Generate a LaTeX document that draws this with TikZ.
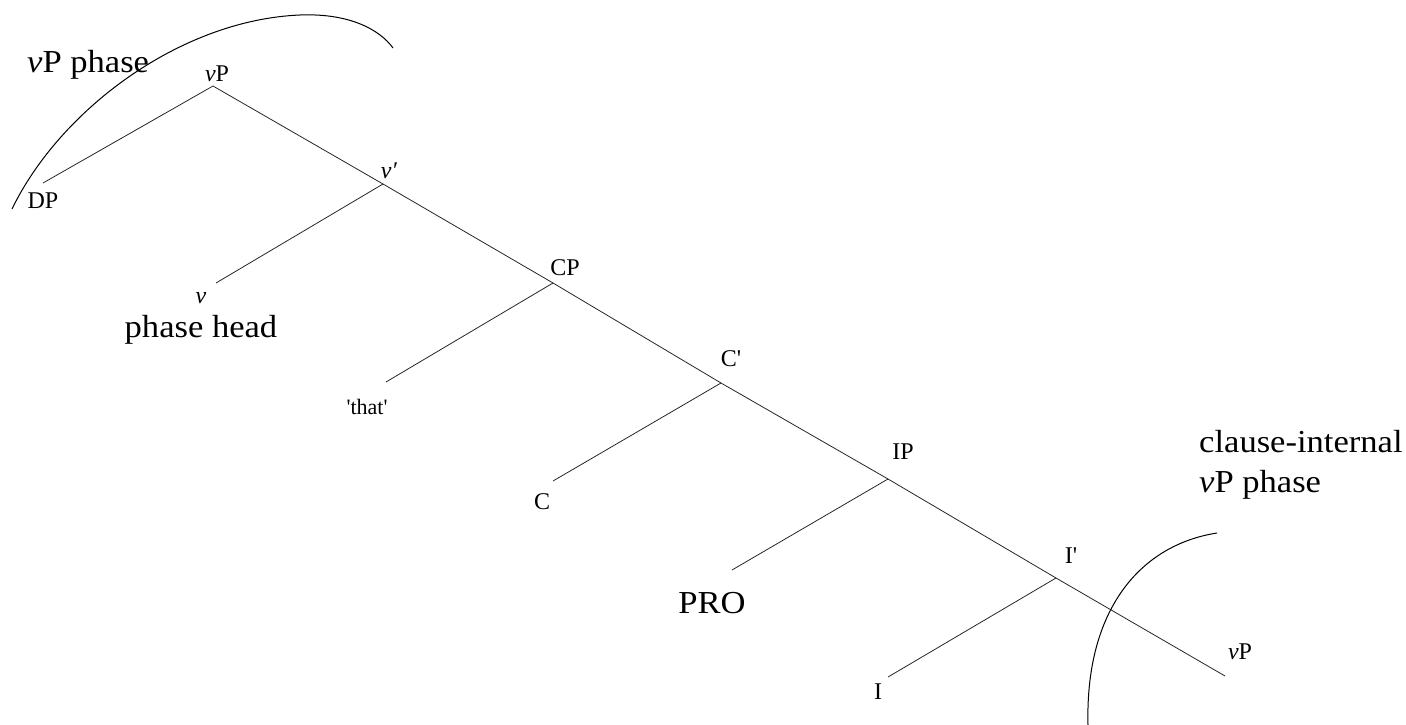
\documentclass[tikz,border=0pt]{standalone}
\usepackage{fontspec}
\setmainfont{Liberation Serif}
\newfontfamily\treefont{Liberation Serif}
\newfontfamily\notefont{Liberation Serif}[FakeStretch=1.08]
\begin{document}
\begin{tikzpicture}[x=1pt,y=-1pt,
  branch/.style={draw=black!85, line width=0.8pt},
  lab/.style={inner sep=0pt, font=\treefont\fontsize{24}{27}\selectfont},
  note/.style={inner sep=0pt, font=\notefont\fontsize{32}{40}\selectfont, anchor=base west},
  phasearc/.style={draw=black, line width=1pt}]
\useasboundingbox (0,0) rectangle (1406,725);
% branch points
\coordinate (vPtop) at (213,86);
\coordinate (DPe) at (43,183);
\coordinate (vbar) at (383,184);
\coordinate (ve) at (216,283);
\coordinate (CP) at (553,283);
\coordinate (thate) at (386,382);
\coordinate (Cbar) at (721,383);
\coordinate (Ce) at (553,481);
\coordinate (IP) at (888,479);
\coordinate (PROe) at (732,570);
\coordinate (Ibar) at (1056,578);
\coordinate (Ie) at (888,677);
\coordinate (vPe) at (1225,676);
% labels
\node[lab] (LvPtop) at (217,74) {\textit{v}P};
\node[lab] (LDP) at (43,201) {DP};
\node[lab] (Lvbar) at (389,171) {\textit{v}\textit{\char"2032}};
\node[lab] (Lv) at (201,298) {\textit{v}};
\node[lab] (LCP) at (565,268) {CP};
\node[lab, font=\treefont\fontsize{22}{24}\selectfont] (Lthat) at (367,407) {'that'};
\node[lab] (LCbar) at (731,359) {C'};
\node[lab] (LC) at (542,502) {C};
\node[lab] (LIP) at (903,452) {IP};
\node[lab] (LIbar) at (1071,556) {I'};
\node[lab] (LI) at (878,692) {I};
\node[lab] (LvPe) at (1240,652) {\textit{v}P};
% annotations
\node[note, anchor=base] (Lhead) at (201,337) {phase head};
\node[note, anchor=base] (LPRO) at (712,613) {PRO};
\node[note] (LvPphase) at (27,73) {\textit{v}P phase};
\node[note] (Lclause1) at (1199,452) {clause-internal};
\node[note] (Lclause2) at (1199,492) {\textit{v}P phase};
% tree
\draw[branch] (DPe) -- (vPtop) -- (vbar) -- (CP) -- (Cbar) -- (IP) -- (Ibar) -- (vPe);
\draw[branch] (vbar) -- (ve);
\draw[branch] (CP) -- (thate);
\draw[branch] (Cbar) -- (Ce);
\draw[branch] (IP) -- (PROe);
\draw[branch] (Ibar) -- (Ie);
% phase arcs
\coordinate (a1) at (12,209);
\coordinate (a2) at (300,15);
\coordinate (a3) at (393,48);
\draw[phasearc] (a1) .. controls (60,110) and (180,20) .. (a2) .. controls (350,13) and (380,30) .. (a3);
\coordinate (b1) at (1217,533);
\coordinate (b2) at (1088,725);
\draw[phasearc] (b1) .. controls (1140,545) and (1085,610) .. (b2);
\end{tikzpicture}
\end{document}
